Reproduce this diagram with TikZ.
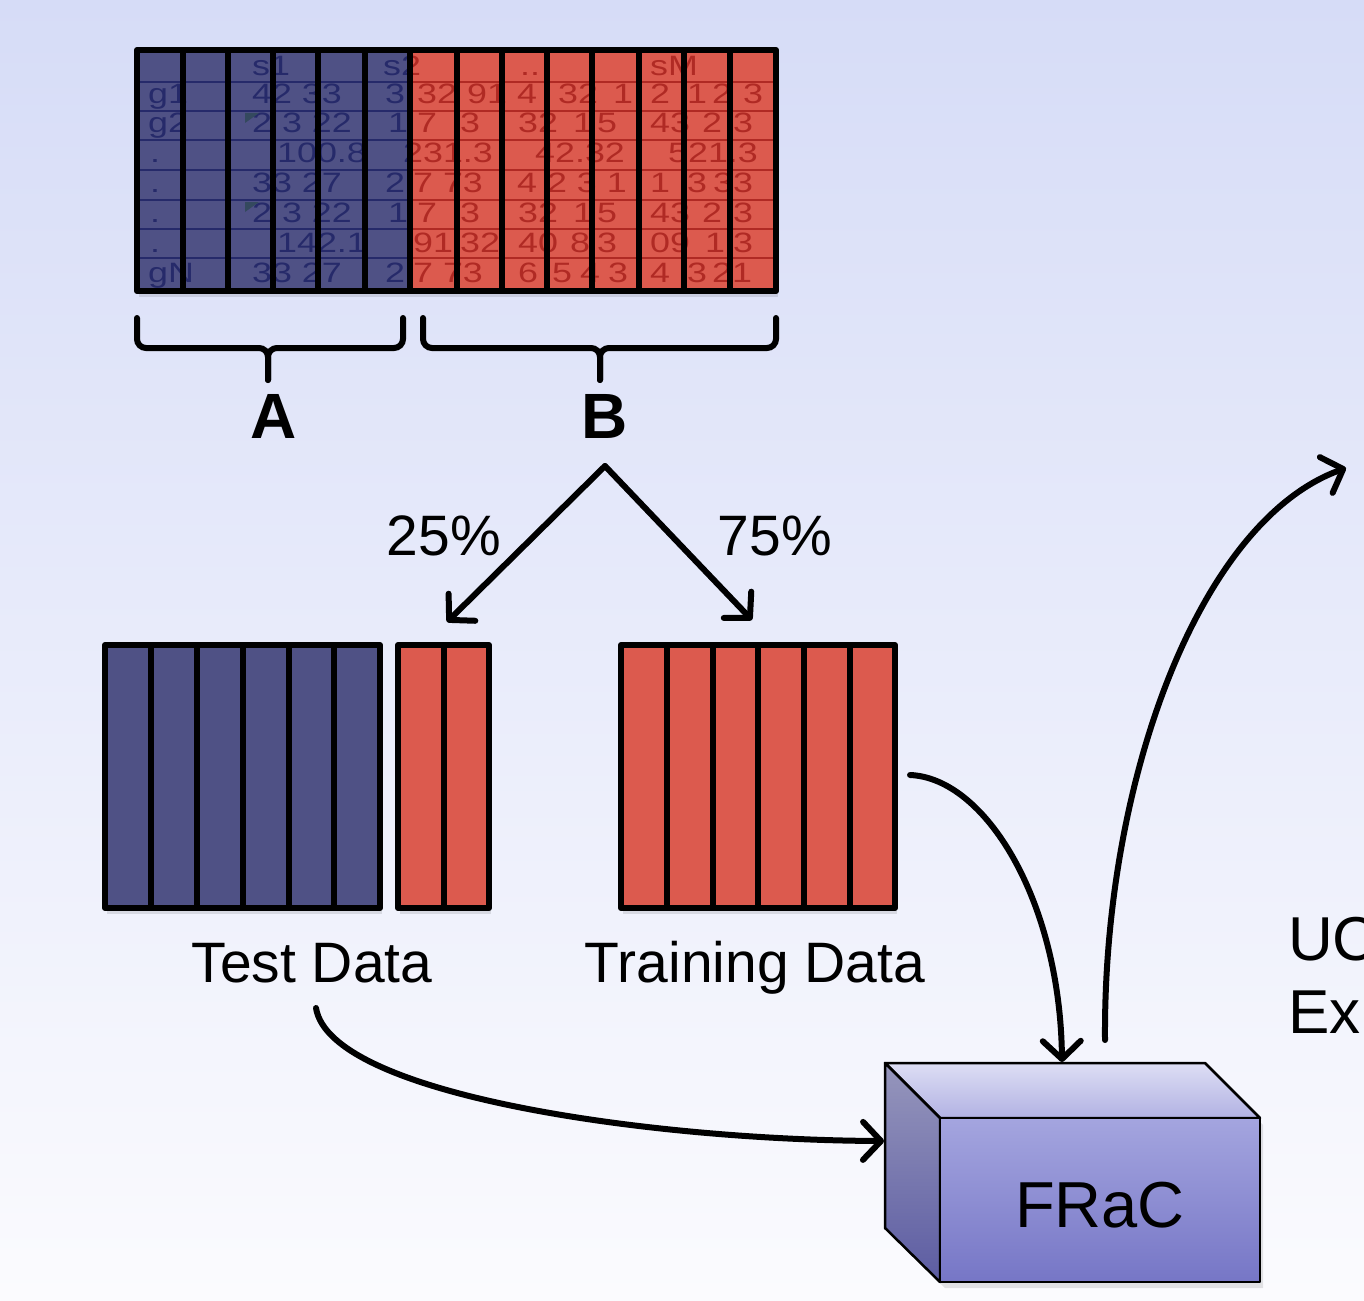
\documentclass[tikz,border=0pt]{standalone}
\usepackage{fontspec}
\setmainfont{Liberation Sans}
\newfontfamily\sheetfont[FakeStretch=1.28]{Liberation Sans}
\usetikzlibrary{arrows.meta}

\definecolor{bgtop}{HTML}{D6DCF7}
\definecolor{bgmid}{HTML}{ECEFFB}
\definecolor{bgbot}{HTML}{FBFBFE}
\definecolor{barblue}{HTML}{4F5185}
\definecolor{barred}{HTML}{DC5A4E}
\definecolor{inkblue}{HTML}{262A6A}
\definecolor{inkred}{HTML}{B02A24}
\definecolor{marker}{HTML}{34495E}
\definecolor{fronttop}{HTML}{A4A5DF}
\definecolor{frontbot}{HTML}{7676C6}
\definecolor{toptop}{HTML}{DDDEF4}
\definecolor{topbot}{HTML}{B2B2E3}
\definecolor{lefttop}{HTML}{9696BC}
\definecolor{leftbot}{HTML}{5C5CA2}

\tikzset{
  bluebar/.style={fill=barblue, draw=black, line width=6pt, line join=round},
  redbar/.style={fill=barred, draw=black, line width=6pt, line join=round},
  baredge/.style={draw=black, line width=6pt, line join=round},
  flow/.style={line width=6pt, line cap=round, -{Straight Barb[length=18pt,width=38pt,round]}},
  cell/.style={anchor=base west, inner sep=0pt, font=\sheetfont\fontsize{28}{30}\selectfont},
  biglabel/.style={inner sep=0pt, anchor=base, font=\fontsize{57}{60}\selectfont},
  letterlabel/.style={inner sep=0pt, anchor=base, font=\bfseries\fontsize{64}{66}\selectfont},
  bracepath/.style={line width=6pt, rounded corners=9pt, line cap=round},
  boxface/.style={draw=black, line width=2.5pt, line join=round},
  shadowbox/.style={fill=black, opacity=0.10},
}

\newcommand{\sheetcontent}[1]{%
  \foreach \yy in {82,111,140,170,200,229,258}
    \draw[line width=2.5pt] (130,\yy) -- (780,\yy);
  \foreach \xx/\yy/\txt [count=\i] in {
    252/76/{s1}, 383/76/{s2}, 520/76/{..}, 650/76/{sM},
    148/104/{g1}, 252/104/{42 33}, 385/104/{3}, 417/104/{32}, 467/104/{91}, 517/104/{4}, 558/104/{32}, 613/104/{1}, 650/104/{2}, 687/104/{1}, 712/104/{2}, 743/104/{3},
    148/133/{g2}, 252/133/{2 3 22}, 388/133/{1}, 417/133/{7}, 460/133/{3}, 518/133/{32}, 573/133/{1}, 597/133/{5}, 650/133/{43}, 702/133/{2}, 733/133/{3},
    150/163/{.}, 277/163/{100.8}, 403/163/{231.3}, 535/163/{42.32}, 668/163/{521.3},
    150/193/{.}, 252/193/{33 27}, 385/193/{2}, 413/193/{7 73}, 517/193/{4 2 3 1}, 650/193/{1}, 687/193/{3}, 713/193/{33},
    150/222/{.}, 252/222/{2 3 22}, 388/222/{1}, 417/222/{7}, 460/222/{3}, 518/222/{32}, 573/222/{1}, 597/222/{5}, 650/222/{43}, 702/222/{2}, 733/222/{3},
    150/252/{.}, 277/252/{142.1}, 413/252/{91}, 460/252/{32}, 518/252/{40}, 570/252/{8}, 597/252/{3}, 650/252/{09}, 705/252/{1}, 733/252/{3},
    148/282/{gN}, 252/282/{33 27}, 385/282/{2}, 413/282/{7 73}, 518/282/{6}, 552/282/{5}, 580/282/{4}, 608/282/{3}, 650/282/{4}, 687/282/{3}, 712/282/{21}}
    \node[cell] (#1\i) at (\xx,\yy) {\txt};
}

\begin{document}
\begin{tikzpicture}[x=1pt,y=-1pt]
\useasboundingbox (0,0) rectangle (1364,1300);
\shade[top color=bgtop, middle color=bgmid, bottom color=bgbot] (0,0) rectangle (1364,1300);

% ---------- spreadsheet with columns ----------
\fill[shadowbox] (139,54) rectangle (778,297);
\foreach \a/\b in {137/183,183/228,228/273,273/318,318/365,365/410}
  \fill[barblue] (\a,50) rectangle (\b,291);
\foreach \a/\b in {410/457,457/502,502/547,547/592,592/639,639/684,684/730,730/776}
  \fill[barred] (\a,50) rectangle (\b,291);

\begin{scope}[inkblue]
  \clip (137,50) rectangle (410,291);
  \sheetcontent{sa}
\end{scope}
\begin{scope}[inkred]
  \clip (410,50) rectangle (776,291);
  \sheetcontent{sb}
\end{scope}
\fill[marker] (245,113) -- (259,113) -- (245,123) -- cycle;
\fill[marker] (245,202) -- (259,202) -- (245,212) -- cycle;

\foreach \a/\b in {137/183,183/228,228/273,273/318,318/365,365/410,410/457,457/502,502/547,547/592,592/639,639/684,684/730,730/776}
  \draw[baredge] (\a,50) rectangle (\b,291);

% ---------- braces ----------
\draw[bracepath] (137,318) |- (268,348) -- (268,380);
\draw[bracepath] (403,318) |- (268,348) -- (268,380);
\draw[bracepath] (423,318) |- (600,348) -- (600,380);
\draw[bracepath] (776,318) |- (600,348) -- (600,380);

\node[letterlabel] (A) at (274,438) {A};
\node[letterlabel] (B) at (605,438) {B};

% ---------- split ----------
\coordinate (split) at (605,466);
\coordinate (testin) at (447,622);
\coordinate (trainin) at (752,620);
\draw[flow] (split) -- (testin);
\draw[flow] (split) -- (trainin);
\node[biglabel] (p25) at (444,555) {25\%};
\node[biglabel] (p75) at (775,555) {75\%};

% ---------- test data ----------
\fill[shadowbox] (107,651) rectangle (382,914);
\fill[shadowbox] (400,651) rectangle (491,914);
\foreach \a/\b in {105/151,151/197,197/243,243/289,289/334,334/380}
  \draw[bluebar] (\a,645) rectangle (\b,908);
\foreach \a/\b in {398/444,444/489}
  \draw[redbar] (\a,645) rectangle (\b,908);
\node[biglabel] (testlbl) at (312,982) {Test Data};

% ---------- training data ----------
\fill[shadowbox] (623,651) rectangle (897,914);
\foreach \a/\b in {621/667,667/713,713/758,758/804,804/850,850/895}
  \draw[redbar] (\a,645) rectangle (\b,908);
\node[biglabel] (trainlbl) at (755,982) {Training Data};

% ---------- FRaC box ----------
\fill[shadowbox] (890,1070) -- (1208,1070) -- (1263,1125) -- (1263,1288) -- (945,1288) -- (890,1234) -- cycle;
\shadedraw[boxface, top color=toptop, bottom color=topbot]
  (885,1063) -- (1205,1063) -- (1260,1118) -- (940,1118) -- cycle;
\shadedraw[boxface, top color=lefttop, bottom color=leftbot]
  (885,1063) -- (940,1118) -- (940,1282) -- (885,1228) -- cycle;
\shadedraw[boxface, top color=fronttop, bottom color=frontbot]
  (940,1118) rectangle (1260,1282);
\node[inner sep=0pt, anchor=base, font=\fontsize{65}{68}\selectfont] (frac) at (1100,1227) {FRaC};

\coordinate (fractop) at (1062,1062);
\coordinate (fracleft) at (884,1141);
\coordinate (fracout) at (1105,1040);
\coordinate (trainout) at (910,775);
\coordinate (testout) at (316,1008);
\coordinate (upend) at (1346,468);

\draw[flow] (trainout) .. controls (985,778) and (1060,900) .. (fractop);
\draw[flow] (testout) .. controls (330,1095) and (650,1140) .. (fracleft);
\draw[flow] (fracout) .. controls (1103,780) and (1200,520) .. (upend);

% ---------- text cut by the right edge, as in the reference ----------
\node[inner sep=0pt, anchor=base west, font=\fontsize{62}{64}\selectfont] (uc) at (1288,960) {UC};
\node[inner sep=0pt, anchor=base west, font=\fontsize{62}{64}\selectfont] (ex) at (1288,1033) {Ex};
\end{tikzpicture}
\end{document}
